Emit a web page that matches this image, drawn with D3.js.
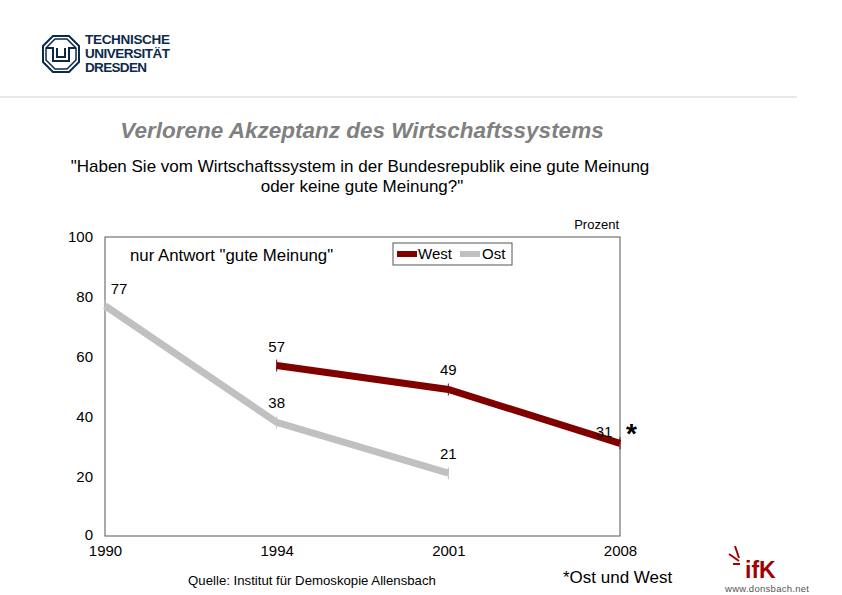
<!DOCTYPE html>
<html>
<head>
<meta charset="utf-8">
<title>Verlorene Akzeptanz des Wirtschaftssystems</title>
<script src="https://cdn.jsdelivr.net/npm/d3@7"></script>
<style>
  body { margin: 0; background: #fff; }
  text { font-family: "Liberation Sans", Arial, sans-serif; }
</style>
</head>
<body>
<script>
var years = ["1990", "1994", "2001", "2008"];
var west = [null, 57, 49, 31];
var ost = [77, 38, 21, null];
var yTicks = [0, 20, 40, 60, 80, 100];

var width = 842, height = 595;
var svg = d3.select("body").append("svg")
  .attr("width", width)
  .attr("height", height);

// --- header: TU Dresden logo
var logo = svg.append("g").attr("transform", "translate(43,36)");
logo.append("path")
  .attr("d", "M10,0 L26,0 L36,10 L36,26 L26,36 L10,36 L0,26 L0,10 Z")
  .attr("fill", "none").attr("stroke", "#0b2a4a").attr("stroke-width", 2);
logo.append("path")
  .attr("d", "M12,3 L24,3 L33,12 L33,24 L24,33 L12,33 L3,24 L3,12 Z")
  .attr("fill", "none").attr("stroke", "#0b2a4a").attr("stroke-width", 1.5);
logo.append("path")
  .attr("d", "M3,12 L10,12 L10,25 L26,25 L26,12 L33,12")
  .attr("fill", "none").attr("stroke", "#0b2a4a").attr("stroke-width", 2);
logo.append("path")
  .attr("d", "M14,12 L14,21 L22,21 L22,12")
  .attr("fill", "none").attr("stroke", "#0b2a4a").attr("stroke-width", 2);
["TECHNISCHE", "UNIVERSITÄT", "DRESDEN"].forEach(function (t, i) {
  logo.append("text")
    .attr("x", 42).attr("y", 8 + i * 14)
    .attr("font-size", 13.5).attr("font-weight", "bold")
    .attr("fill", "#0b2a4a")
    .attr("textLength", i == 2 ? 62 : 85)
    .text(t);
});

svg.append("line")
  .attr("x1", 0).attr("x2", 797).attr("y1", 97).attr("y2", 97)
  .attr("stroke", "#d0d0d0").attr("stroke-width", 1);

// --- titles
svg.append("text")
  .attr("x", 362).attr("y", 138).attr("text-anchor", "middle")
  .attr("font-size", 22.5).attr("font-weight", "bold").attr("font-style", "italic")
  .attr("fill", "#808080")
  .text("Verlorene Akzeptanz des Wirtschaftssystems");
svg.append("text")
  .attr("x", 360).attr("y", 172).attr("text-anchor", "middle")
  .attr("font-size", 17)
  .text("\"Haben Sie vom Wirtschaftssystem in der Bundesrepublik eine gute Meinung");
svg.append("text")
  .attr("x", 362).attr("y", 192).attr("text-anchor", "middle")
  .attr("font-size", 17)
  .text("oder keine gute Meinung?\"");

// --- chart
var x = d3.scalePoint().domain(years).range([105, 620]);
var y = d3.scaleLinear().domain([0, 100]).range([536, 237]);

svg.append("rect")
  .attr("x", 105).attr("y", 237)
  .attr("width", 515).attr("height", 299)
  .attr("fill", "none").attr("stroke", "#555").attr("stroke-width", 1);

var yAxis = svg.append("g")
  .attr("transform", "translate(105,0)")
  .call(d3.axisLeft(y).tickValues(yTicks).tickSize(0).tickPadding(12));
yAxis.select(".domain").remove();
yAxis.selectAll("text").attr("font-size", 15).attr("fill", "#000")
  .attr("font-family", "Liberation Sans, Arial, sans-serif");
yAxis.selectAll(".tick text").filter(function (d) { return d === 0; }).attr("dy", "0.2em");

var xAxis = svg.append("g")
  .attr("transform", "translate(0,536)")
  .call(d3.axisBottom(x).tickSize(0).tickPadding(9));
xAxis.select(".domain").remove();
xAxis.selectAll("text").attr("font-size", 15).attr("fill", "#000")
  .attr("font-family", "Liberation Sans, Arial, sans-serif");

var line = d3.line()
  .defined(function (d) { return d != null; })
  .x(function (d, i) { return x(years[i]); })
  .y(function (d) { return y(d); });

svg.append("path").datum(ost)
  .attr("d", line)
  .attr("fill", "none").attr("stroke", "#c0c0c0").attr("stroke-width", 7);
svg.append("path").datum(west)
  .attr("d", line)
  .attr("fill", "none").attr("stroke", "#800000").attr("stroke-width", 7);

// small markers
function markers(data, color) {
  svg.selectAll(null)
    .data(data.map(function (d, i) { return { v: d, i: i }; }).filter(function (d) { return d.v != null; }))
    .enter().append("line")
    .attr("x1", function (d) { return x(years[d.i]); })
    .attr("x2", function (d) { return x(years[d.i]); })
    .attr("y1", function (d) { return y(d.v) - 6; })
    .attr("y2", function (d) { return y(d.v) + 6; })
    .attr("stroke", color).attr("stroke-width", 1);
}
markers(west, "#800000");
markers(ost, "#c0c0c0");

// data labels
var labelOffsets = { west: [null, [0, -14], [0, -14], [-16, -6]], ost: [[14, -12], [0, -14], [0, -14], null] };
function labels(data, offs) {
  data.forEach(function (d, i) {
    if (d == null) return;
    svg.append("text")
      .attr("x", x(years[i]) + offs[i][0])
      .attr("y", y(d) + offs[i][1])
      .attr("text-anchor", "middle")
      .attr("font-size", 15)
      .text(d);
  });
}
labels(west, labelOffsets.west);
labels(ost, labelOffsets.ost);

svg.append("text")
  .attr("x", 626).attr("y", 443)
  .attr("font-size", 28).attr("font-weight", "bold")
  .text("*");

svg.append("text")
  .attr("x", 130).attr("y", 261)
  .attr("font-size", 16.8)
  .text("nur Antwort \"gute Meinung\"");

svg.append("text")
  .attr("x", 619).attr("y", 229).attr("text-anchor", "end")
  .attr("font-size", 13)
  .text("Prozent");

// legend
var lg = svg.append("g").attr("transform", "translate(393,243)");
lg.append("rect").attr("width", 119).attr("height", 22)
  .attr("fill", "#fff").attr("stroke", "#555");
lg.append("line").attr("x1", 4).attr("x2", 24).attr("y1", 11).attr("y2", 11)
  .attr("stroke", "#800000").attr("stroke-width", 6);
lg.append("text").attr("x", 25).attr("y", 16).attr("font-size", 15).text("West");
lg.append("line").attr("x1", 67).attr("x2", 87).attr("y1", 11).attr("y2", 11)
  .attr("stroke", "#c0c0c0").attr("stroke-width", 6);
lg.append("text").attr("x", 89).attr("y", 16).attr("font-size", 15).text("Ost");

// footer
svg.append("text")
  .attr("x", 312).attr("y", 585).attr("text-anchor", "middle")
  .attr("font-size", 13.2)
  .text("Quelle: Institut für Demoskopie Allensbach");
svg.append("text")
  .attr("x", 563).attr("y", 583)
  .attr("font-size", 17)
  .text("*Ost und West");

// ifk logo
var ifk = svg.append("g").attr("transform", "translate(725,546)");
[[10, 0, 14, 12], [4, 8, 14, 15], [8, 18, 15, 18]].forEach(function (r) {
  ifk.append("line")
    .attr("x1", r[0]).attr("y1", r[1])
    .attr("x2", r[2]).attr("y2", r[3])
    .attr("stroke", "#a00000").attr("stroke-width", 2);
});
ifk.append("text").attr("x", 20).attr("y", 32)
  .attr("font-size", 23).attr("font-weight", "bold").attr("fill", "#a00000")
  .text("ifK");
ifk.append("text").attr("x", 0).attr("y", 46)
  .attr("font-size", 9.5).attr("fill", "#555")
  .attr("textLength", 84)
  .text("www.donsbach.net");
</script>
</body>
</html>
